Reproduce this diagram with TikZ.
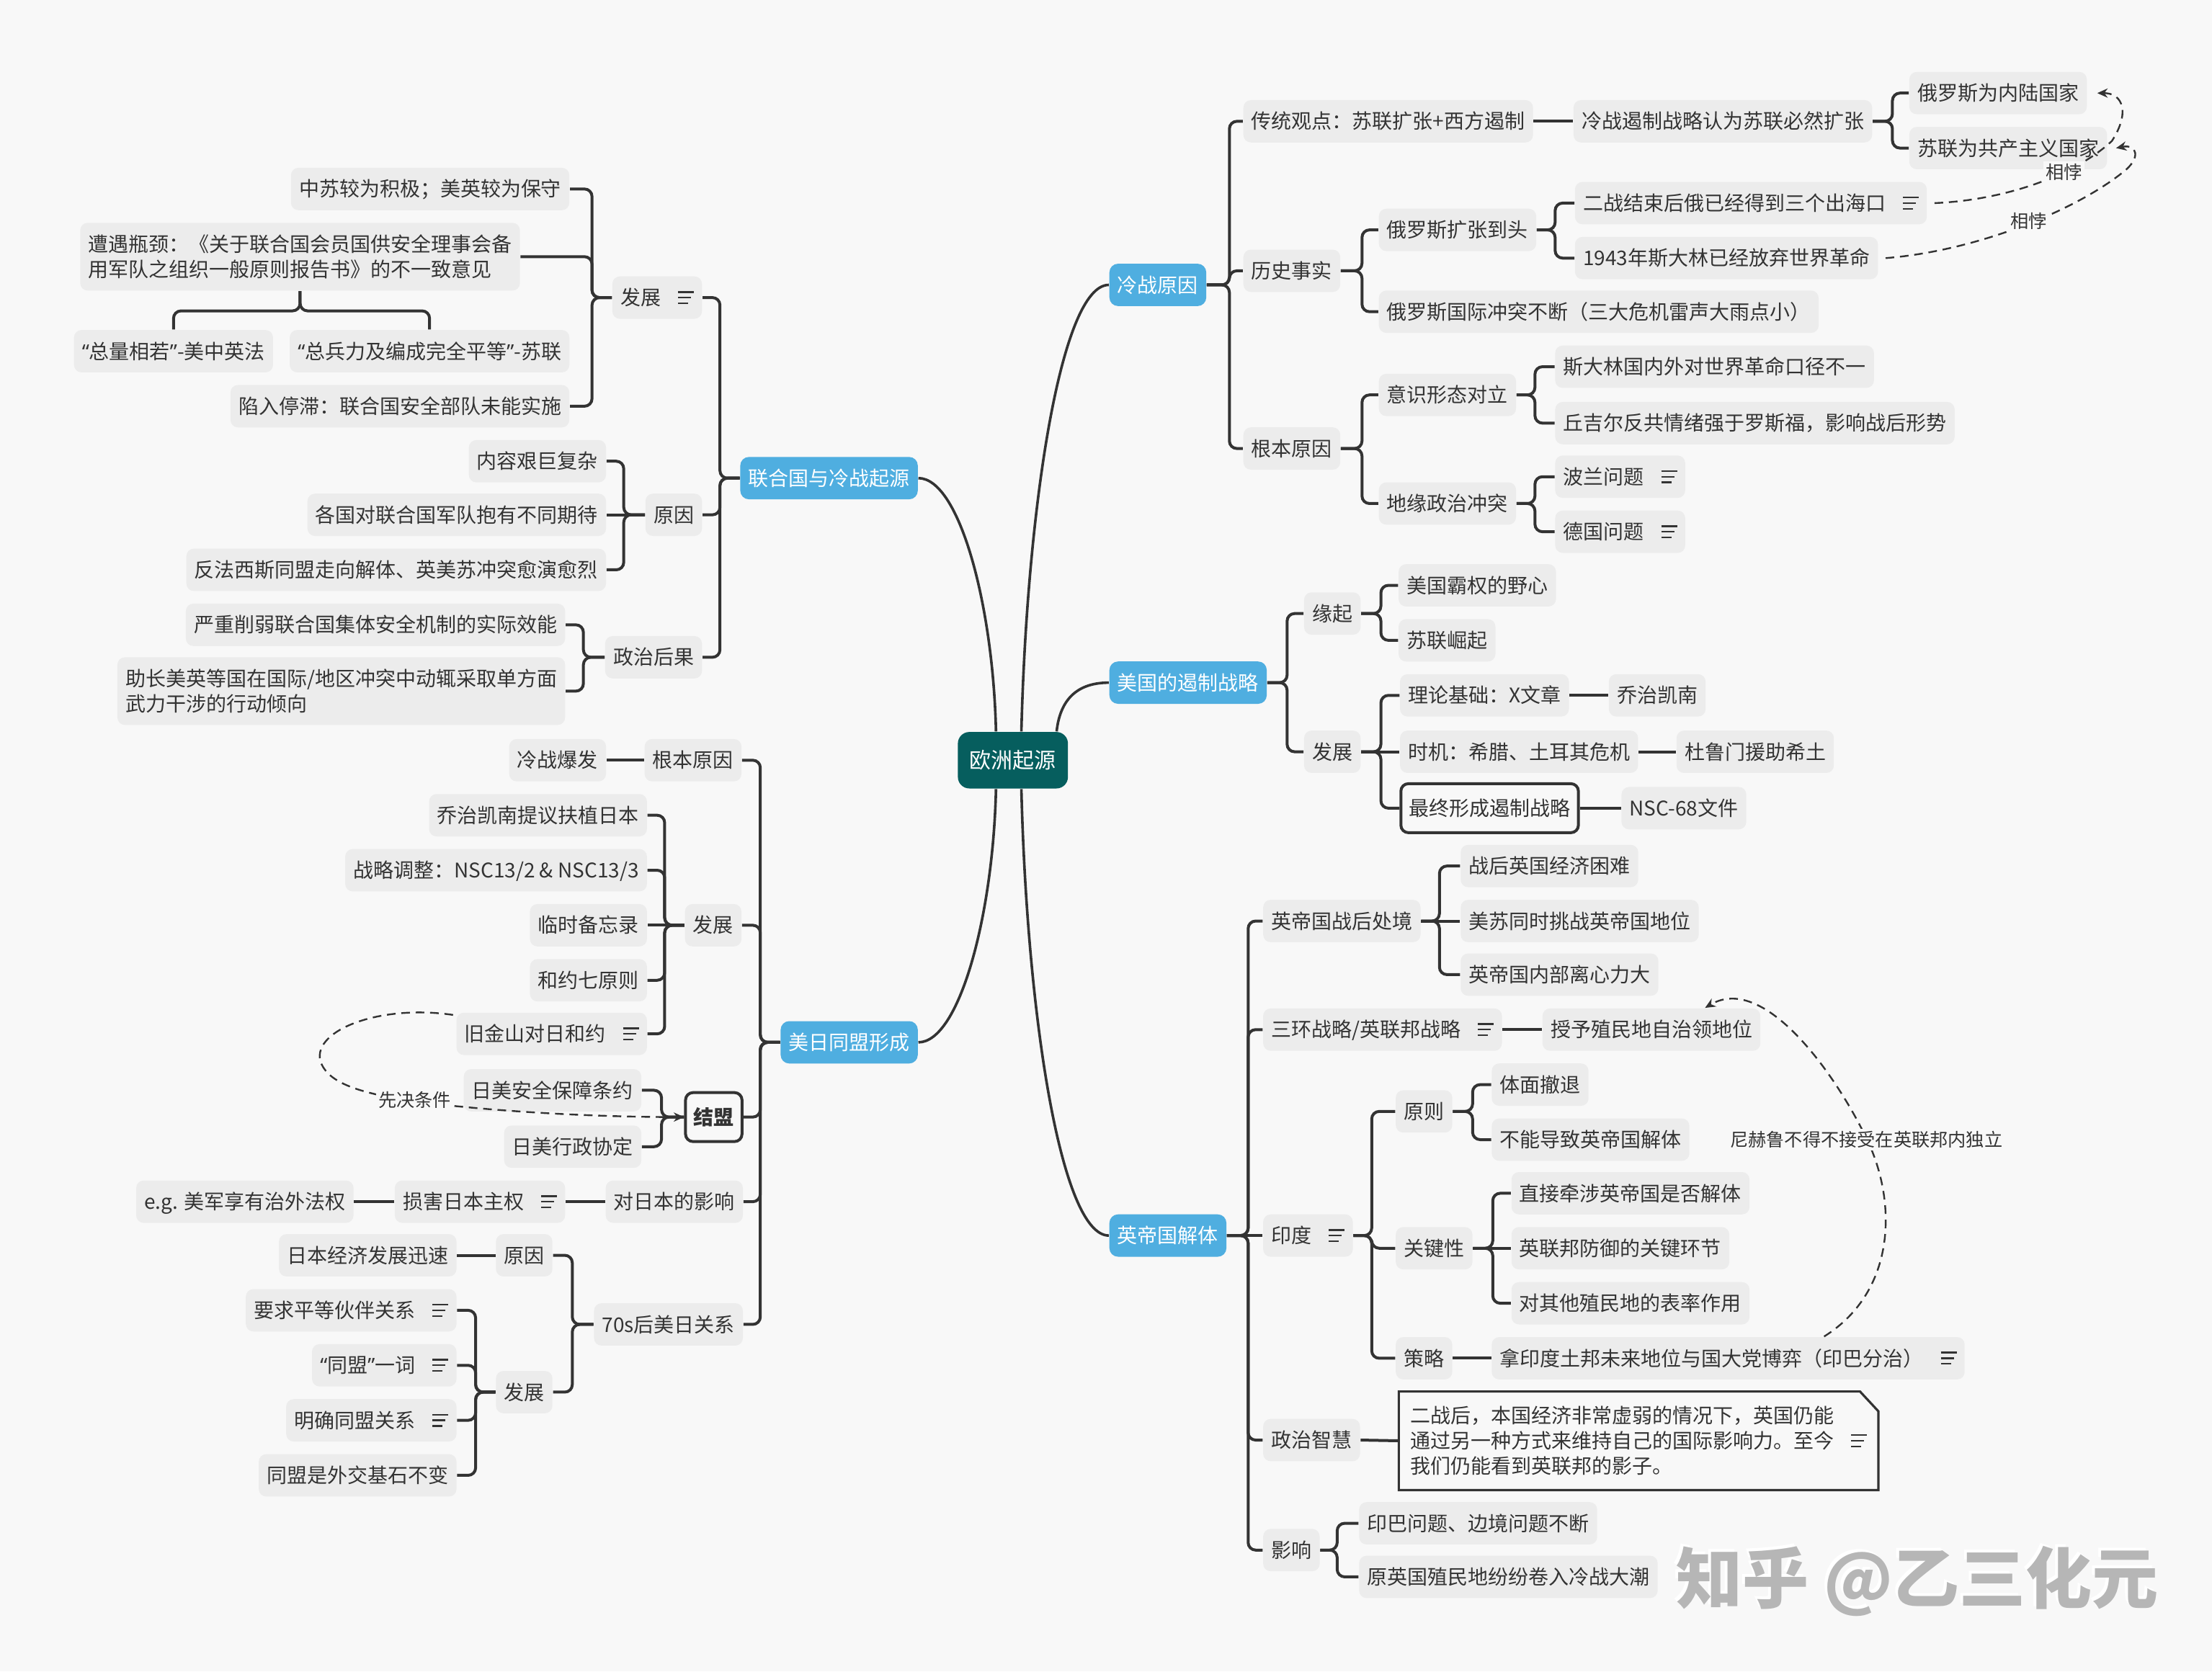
\documentclass[tikz,border=0pt]{standalone}
\usepackage{fontspec}
\setmainfont{Noto Sans CJK SC}
\newfontfamily\latinf{Noto Sans}
\usetikzlibrary{arrows.meta,calc}
\definecolor{bgc}{HTML}{F8F8F8}
\definecolor{nfill}{HTML}{ECECEC}
\definecolor{ink}{HTML}{333333}
\definecolor{blue1}{HTML}{4FAEE0}
\definecolor{teal1}{HTML}{065E5E}
\definecolor{wmc}{HTML}{B6B6B6}
\newcommand\noteicon{\hspace{6pt}\raisebox{0.4pt}{\vbox{\hrule width 5.5pt height 0.6pt\vskip1.35pt\hrule width 4.5pt height 0.6pt\vskip1.35pt\hrule width 3.5pt height 0.6pt}}}
\newcommand\myoq{{\latinf “}}
\newcommand\mycq{{\latinf ”}}
\newcommand\conR[3]{\draw[conn] (#1.east) -- ++(#3,0) |- (#2.west);}
\newcommand\conL[3]{\draw[conn] (#1.west) -- ++(-#3,0) |- (#2.east);}
\newcommand\strR[2]{\draw[conn] (#1.east) -- (#2.west);}
\newcommand\strL[2]{\draw[conn] (#1.west) -- (#2.east);}
\tikzset{
  box/.style={fill=nfill, rounded corners=2.6pt, inner xsep=2.8pt, inner ysep=0pt, minimum height=14.7pt, text height=6.2pt, text depth=0.9pt, text=ink},
  boxtwo/.style={fill=nfill, rounded corners=2.6pt, inner xsep=2.8pt, inner ysep=1pt, minimum height=23.5pt, align=left, text=ink},
  bluebox/.style={fill=blue1, text=white, rounded corners=3pt, inner xsep=2.8pt, inner ysep=0pt, minimum height=14.7pt, text height=6.2pt, text depth=0.9pt},
  rootbox/.style={fill=teal1, text=white, rounded corners=4pt, minimum width=38.2pt, minimum height=19.6pt, inner sep=0pt, font=\fontsize{7.5pt}{9pt}\selectfont},
  obox/.style={box, fill=bgc, draw=ink, line width=1pt, minimum height=17pt},
  conn/.style={draw=ink, line width=1pt, rounded corners=2.6pt},
  curve/.style={draw=ink, line width=0.9pt},
  dasharrow/.style={draw=ink, line width=0.6pt, dash pattern=on 3pt off 2pt, -{Stealth[length=3.6pt,width=3.2pt]}},
  lab/.style={fill=bgc, inner sep=0.8pt, font=\fontsize{6.3pt}{7pt}\selectfont, text=ink},
}
\begin{document}
\begin{tikzpicture}[x=0.4895pt, y=-0.4895pt, font=\fontsize{7pt}{8.8pt}\selectfont, text=ink]
\path[use as bounding box, fill=bgc] (0,0) rectangle (1568,1185);

% ---------- root and first level ----------
\node[rootbox] (ctr) at (718,539) {欧洲起源};
\node[bluebox, anchor=west] (lzyy) at (786,202) {冷战原因};
\node[bluebox, anchor=west] (ezzl) at (786,484) {美国的遏制战略};
\node[bluebox, anchor=west] (ydgj) at (786,876) {英帝国解体};
\node[bluebox, anchor=east] (lhg) at (651,339) {联合国与冷战起源};
\node[bluebox, anchor=east] (mrtm) at (651,739) {美日同盟形成};

% ---------- 冷战原因 ----------
\node[box, anchor=west] (ctgd) at (881,86) {传统观点：苏联扩张+西方遏制};
\node[box, anchor=west] (lzez) at (1115,86) {冷战遏制战略认为苏联必然扩张};
\node[box, anchor=west] (elsnl) at (1353,66) {俄罗斯为内陆国家};
\node[box, anchor=west] (slgc) at (1353,105) {苏联为共产主义国家};
\node[box, anchor=west] (lsss) at (881,192) {历史事实};
\node[box, anchor=west] (elskz) at (977,163) {俄罗斯扩张到头};
\node[box, anchor=west] (ezjs) at (1116,144) {二战结束后俄已经得到三个出海口\noteicon};
\node[box, anchor=west] (sa) at (1116,183) {1943年斯大林已经放弃世界革命};
\node[box, anchor=west] (elsct) at (977,221) {俄罗斯国际冲突不断（三大危机雷声大雨点小）};
\node[box, anchor=west] (gbyy) at (881,318) {根本原因};
\node[box, anchor=west] (ysxt) at (977,280) {意识形态对立};
\node[box, anchor=west] (sdl) at (1102,260) {斯大林国内外对世界革命口径不一};
\node[box, anchor=west] (qje) at (1102,300) {丘吉尔反共情绪强于罗斯福，影响战后形势};
\node[box, anchor=west] (dyzz) at (977,357) {地缘政治冲突};
\node[box, anchor=west] (blwt) at (1102,338) {波兰问题\noteicon};
\node[box, anchor=west] (dgwt) at (1102,377) {德国问题\noteicon};

% ---------- 美国的遏制战略 ----------
\node[box, anchor=west] (yq) at (924,435) {缘起};
\node[box, anchor=west] (mgbq) at (991,415) {美国霸权的野心};
\node[box, anchor=west] (sljq) at (991,454) {苏联崛起};
\node[box, anchor=west] (fza) at (924,533) {发展};
\node[box, anchor=west] (lljc) at (992,493) {理论基础：X文章};
\node[box, anchor=west] (qzkn) at (1140,493) {乔治凯南};
\node[box, anchor=west] (sj) at (992,533) {时机：希腊、土耳其危机};
\node[box, anchor=west] (dlm) at (1188,533) {杜鲁门援助希土};
\node[obox, anchor=west] (zzxc) at (992,573) {最终形成遏制战略};
\node[box, anchor=west] (nsc) at (1149,573) {NSC-68文件};

% ---------- 英帝国解体 ----------
\node[box, anchor=west] (ydgzh) at (895,653) {英帝国战后处境};
\node[box, anchor=west] (zhyg) at (1035,614) {战后英国经济困难};
\node[box, anchor=west] (mstz) at (1035,653) {美苏同时挑战英帝国地位};
\node[box, anchor=west] (ydnb) at (1035,691) {英帝国内部离心力大};
\node[box, anchor=west] (shzl) at (895,730) {三环战略/英联邦战略\noteicon};
\node[box, anchor=west] (syzm) at (1093,730) {授予殖民地自治领地位};
\node[box, anchor=west] (yd) at (895,876) {印度\noteicon};
\node[box, anchor=west] (yz) at (989,788) {原则};
\node[box, anchor=west] (tmct) at (1057,769) {体面撤退};
\node[box, anchor=west] (bndz) at (1057,808) {不能导致英帝国解体};
\node[box, anchor=west] (gjx) at (989,885) {关键性};
\node[box, anchor=west] (zjqs) at (1071,846) {直接牵涉英帝国是否解体};
\node[box, anchor=west] (ylbf) at (1071,885) {英联邦防御的关键环节};
\node[box, anchor=west] (dqt) at (1071,924) {对其他殖民地的表率作用};
\node[box, anchor=west] (cl) at (989,963) {策略};
\node[box, anchor=west] (nyd) at (1057,963) {拿印度土邦未来地位与国大党博弈（印巴分治）\noteicon};
\node[box, anchor=west] (zzzh) at (895,1021) {政治智慧};
\node[align=left, inner xsep=3.4pt, inner ysep=0pt, minimum width=166pt, minimum height=33.8pt, text=ink] (note) at (1161.5,1021.5)
  {二战后，本国经济非常虚弱的情况下，英国仍能\\通过另一种方式来维持自己的国际影响力。至今\noteicon\\我们仍能看到英联邦的影子。};
\draw[ink, line width=0.8pt] (note.north west) -- ($(note.north east)+(-13,0)$) -- ($(note.north east)+(0,14)$) -- (note.south east) -- (note.south west) -- cycle;
\node[box, anchor=west] (yx) at (895,1099) {影响};
\node[box, anchor=west] (ybwt) at (963,1080) {印巴问题、边境问题不断};
\node[box, anchor=west] (yygzm) at (963,1118) {原英国殖民地纷纷卷入冷战大潮};

% ---------- 联合国与冷战起源 ----------
\node[box, anchor=east] (fzb) at (498,211) {发展\noteicon};
\node[box, anchor=east] (zsjw) at (404,134) {中苏较为积极；美英较为保守};
\node[boxtwo, anchor=east] (zypj) at (369,182) {遭遇瓶颈：《关于联合国会员国供安全理事会备\\用军队之组织一般原则报告书》的不一致意见};
\node[box] (zlxr) at (123,249) {\myoq 总量相若\mycq-美中英法};
\node[box] (zblj) at (304.5,249) {\myoq 总兵力及编成完全平等\mycq-苏联};
\node[box, anchor=east] (xrtz) at (404,288) {陷入停滞：联合国安全部队未能实施};
\node[box, anchor=east] (yya) at (498,365) {原因};
\node[box, anchor=east] (nrjj) at (430,327) {内容艰巨复杂};
\node[box, anchor=east] (ggdl) at (430,365) {各国对联合国军队抱有不同期待};
\node[box, anchor=east] (ffxs) at (430,404) {反法西斯同盟走向解体、英美苏冲突愈演愈烈};
\node[box, anchor=east] (zzhg) at (498,466) {政治后果};
\node[box, anchor=east] (yzxr) at (401,443) {严重削弱联合国集体安全机制的实际效能};
\node[boxtwo, anchor=east] (zzmy) at (401,490) {助长美英等国在国际/地区冲突中动辄采取单方面\\武力干涉的行动倾向};

% ---------- 美日同盟形成 ----------
\node[box, anchor=east] (gbyyb) at (526,539) {根本原因};
\node[box, anchor=east] (lzbf) at (430,539) {冷战爆发};
\node[box, anchor=east] (fzc) at (526,656) {发展};
\node[box, anchor=east] (qzkt) at (459,578) {乔治凯南提议扶植日本};
\node[box, anchor=east] (zltz) at (459,617) {战略调整：NSC13/2 \& NSC13/3};
\node[box, anchor=east] (lsbw) at (459,656) {临时备忘录};
\node[box, anchor=east] (hyqy) at (459,695) {和约七原则};
\node[box, anchor=east] (jjs) at (459,733) {旧金山对日和约\noteicon};
\node[obox, anchor=east, font=\fontsize{7pt}{8.8pt}\selectfont\bfseries] (jm) at (527,792) {结盟};
\node[box, anchor=east] (rmaq) at (455,773) {日美安全保障条约};
\node[box, anchor=east] (rmxz) at (455,813) {日美行政协定};
\node[box, anchor=east] (drbyx) at (527,852) {对日本的影响};
\node[box, anchor=east] (shrb) at (401,852) {损害日本主权\noteicon};
\node[box, anchor=east] (eg) at (251,852) {e.g. 美军享有治外法权};
\node[box, anchor=east] (sqs) at (527,939) {70s后美日关系};
\node[box, anchor=east] (yyb) at (392,890) {原因};
\node[box, anchor=east] (rbjj) at (324,890) {日本经济发展迅速};
\node[box, anchor=east] (fzd) at (392,987) {发展};
\node[box, anchor=east] (yqpd) at (324,929) {要求平等伙伴关系\noteicon};
\node[box, anchor=east] (tmyc) at (324,968) {\myoq 同盟\mycq 一词\noteicon};
\node[box, anchor=east] (mqtm) at (324,1007) {明确同盟关系\noteicon};
\node[box, anchor=east] (tmsw) at (324,1046) {同盟是外交基石不变};

% ---------- main curves ----------
\draw[curve] ($(ctr.north)+(6,0)$) .. controls (728,360) and (752,202) .. (lzyy.west);
\draw[curve] ($(ctr.north)+(31,0)$) .. controls (751,500) and (760,484) .. (ezzl.west);
\draw[curve] ($(ctr.south)+(6,0)$) .. controls (728,720) and (752,876) .. (ydgj.west);
\draw[curve] ($(ctr.north)+(-12,0)$) .. controls (704,429) and (680,339) .. (lhg.east);
\draw[curve] ($(ctr.south)+(-12,0)$) .. controls (704,649) and (680,739) .. (mrtm.east);

% ---------- right connectors ----------
\conR{lzyy}{ctgd}{16} \conR{lzyy}{lsss}{16} \conR{lzyy}{gbyy}{16}
\strR{ctgd}{lzez}
\conR{lzez}{elsnl}{14} \conR{lzez}{slgc}{14}
\conR{lsss}{elskz}{15} \conR{lsss}{elsct}{15}
\conR{elskz}{ezjs}{13} \conR{elskz}{sa}{13}
\conR{gbyy}{ysxt}{15} \conR{gbyy}{dyzz}{15}
\conR{ysxt}{sdl}{13} \conR{ysxt}{qje}{13}
\conR{dyzz}{blwt}{13} \conR{dyzz}{dgwt}{13}
\conR{ezzl}{yq}{14} \conR{ezzl}{fza}{14}
\conR{yq}{mgbq}{14} \conR{yq}{sljq}{14}
\conR{fza}{lljc}{14} \strR{fza}{sj} \conR{fza}{zzxc}{14}
\strR{lljc}{qzkn} \strR{sj}{dlm} \strR{zzxc}{nsc}
\conR{ydgj}{ydgzh}{15} \conR{ydgj}{shzl}{15} \strR{ydgj}{yd} \conR{ydgj}{zzzh}{15} \conR{ydgj}{yx}{15}
\conR{ydgzh}{zhyg}{13} \strR{ydgzh}{mstz} \conR{ydgzh}{ydnb}{13}
\strR{shzl}{syzm}
\conR{yd}{yz}{13} \conR{yd}{gjx}{13} \conR{yd}{cl}{13}
\conR{yz}{tmct}{14} \conR{yz}{bndz}{14}
\conR{gjx}{zjqs}{14} \strR{gjx}{ylbf} \conR{gjx}{dqt}{14}
\strR{cl}{nyd}
\strR{zzzh}{note}
\conR{yx}{ybwt}{12} \conR{yx}{yygzm}{12}

% ---------- left connectors ----------
\conL{lhg}{fzb}{14} \conL{lhg}{yya}{14} \conL{lhg}{zzhg}{14}
\conL{fzb}{zsjw}{14} \conL{fzb}{zypj}{14} \conL{fzb}{xrtz}{14}
\draw[conn] (zypj.south) -- ++(0,14) -| (zlxr.north);
\draw[conn] (zypj.south) -- ++(0,14) -| (zblj.north);
\conL{yya}{nrjj}{15} \strL{yya}{ggdl} \conL{yya}{ffxs}{15}
\conL{zzhg}{yzxr}{15} \conL{zzhg}{zzmy}{15}
\conL{mrtm}{gbyyb}{14} \conL{mrtm}{fzc}{14} \conL{mrtm}{jm}{14} \conL{mrtm}{drbyx}{14} \conL{mrtm}{sqs}{14}
\strL{gbyyb}{lzbf}
\conL{fzc}{qzkt}{14} \conL{fzc}{zltz}{14} \strL{fzc}{lsbw} \conL{fzc}{hyqy}{14} \conL{fzc}{jjs}{14}
\conL{jm}{rmaq}{16} \conL{jm}{rmxz}{16}
\strL{drbyx}{shrb} \strL{shrb}{eg}
\conL{sqs}{yyb}{15} \conL{sqs}{fzd}{15}
\strL{yyb}{rbjj}
\conL{fzd}{yqpd}{14} \conL{fzd}{tmyc}{14} \conL{fzd}{mqtm}{14} \conL{fzd}{tmsw}{14}

% ---------- dashed relations ----------
\draw[dasharrow] ($(ezjs.east)+(5,0)$) .. controls (1420,142) and (1470,125) .. (1497,100) .. controls (1510,80) and (1505,66) .. ($(elsnl.east)+(7,0)$);
\node[lab] (xba) at (1463,122) {相悖};
\draw[dasharrow] ($(sa.east)+(5,0)$) .. controls (1400,178) and (1470,150) .. (1505,122) .. controls (1518,112) and (1515,102) .. ($(slgc.east)+(6,0)$);
\node[lab] (xbb) at (1438,157) {相悖};
\draw[dasharrow] ($(nyd.north)+(68,0)$) .. controls (1345,915) and (1345,850) .. (1322,805) .. controls (1300,760) and (1250,690) .. ($(syzm.north)+(38,0)$);
\node[lab] (nhl) at (1323,808) {尼赫鲁不得不接受在英联邦内独立};
\draw[dasharrow] ($(jjs.north west)+(-2,2)$) .. controls (270,712) and (222,730) .. (227,752) .. controls (232,768) and (255,775) .. (294,781) .. controls (350,788) and (420,792) .. (jm.west);
\node[lab] (xjtj) at (294,780) {先决条件};

% ---------- watermark ----------
\node[text=white, font=\fontsize{23pt}{23pt}\selectfont\bfseries] (wmshadow) at (1357,1119) {知乎 @乙三化元};
\node[text=wmc, font=\fontsize{23pt}{23pt}\selectfont\bfseries] (wm) at (1359,1121) {知乎 @乙三化元};
\end{tikzpicture}
\end{document}
